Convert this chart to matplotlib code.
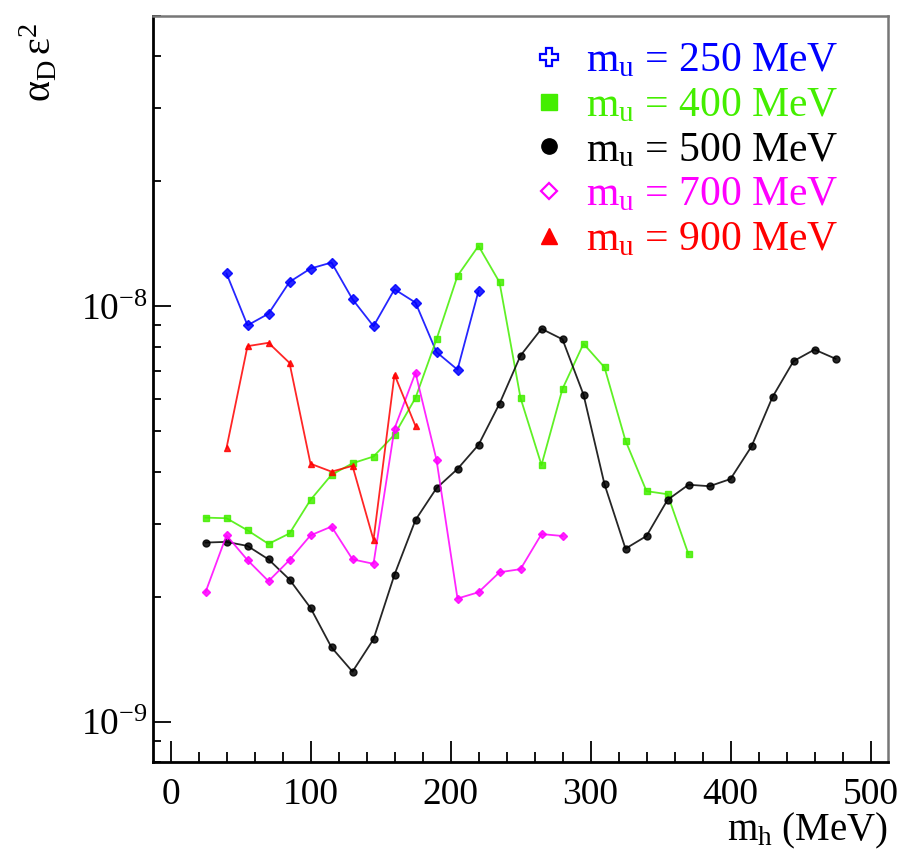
import numpy as np
import matplotlib.pyplot as plt
from matplotlib.lines import Line2D
from matplotlib.ticker import FixedLocator, LogLocator, MultipleLocator, NullFormatter

plt.rcParams['font.family'] = ['Liberation Serif', 'DejaVu Serif']
plt.rcParams['mathtext.fontset'] = 'custom'
plt.rcParams['mathtext.rm'] = 'Liberation Serif'
plt.rcParams['mathtext.it'] = 'Liberation Serif:italic'

# --- data (y in units of 1e-9) ---
x_250 = [40, 55, 70, 85, 100, 115, 130, 145, 160, 175, 190, 205, 220]
y_250 = [12.0, 9.0, 9.6, 11.45, 12.33, 12.75, 10.4, 8.96, 10.99, 10.21, 7.76, 7.04, 10.89]

x_400 = [25, 40, 55, 70, 85, 100, 115, 130, 145, 160, 175, 190, 205, 220, 235, 250,
         265, 280, 295, 310, 325, 340, 355, 370]
y_400 = [3.10, 3.09, 2.89, 2.68, 2.84, 3.42, 3.93, 4.19, 4.35, 4.91, 6.02, 8.33, 11.84,
         13.98, 11.43, 6.02, 4.15, 6.33, 8.13, 7.13, 4.75, 3.59, 3.53, 2.53]

x_500 = [25, 40, 55, 70, 85, 100, 115, 130, 145, 160, 175, 190, 205, 220, 235, 250,
         265, 280, 295, 310, 325, 340, 355, 370, 385, 400, 415, 430, 445, 460, 475]
y_500 = [2.70, 2.71, 2.65, 2.46, 2.20, 1.88, 1.51, 1.32, 1.58, 2.26, 3.06, 3.65, 4.06,
         4.64, 5.83, 7.61, 8.83, 8.33, 6.13, 3.73, 2.61, 2.80, 3.42, 3.72, 3.69, 3.84,
         4.60, 6.05, 7.38, 7.87, 7.48]

x_700 = [25, 40, 55, 70, 85, 100, 115, 130, 145, 160, 175, 190, 205, 220, 235, 250, 265, 280]
y_700 = [2.05, 2.81, 2.45, 2.18, 2.45, 2.81, 2.95, 2.46, 2.40, 5.08, 6.92, 4.27, 1.98,
         2.05, 2.29, 2.33, 2.83, 2.80]

x_900 = [40, 55, 70, 85, 100, 115, 130, 145, 160, 175]
y_900 = [4.56, 8.02, 8.17, 7.31, 4.18, 4.00, 4.13, 2.74, 6.85, 5.15]

labels = [r'm$_{\mathrm{u}}$ = 250 MeV', r'm$_{\mathrm{u}}$ = 400 MeV',
          r'm$_{\mathrm{u}}$ = 500 MeV', r'm$_{\mathrm{u}}$ = 700 MeV',
          r'm$_{\mathrm{u}}$ = 900 MeV']
colors = ['#0000ff', '#44ee00', '#000000', '#ff00ff', '#ff0000']
series = [(x_250, y_250), (x_400, y_400), (x_500, y_500), (x_700, y_700), (x_900, y_900)]
data_markers = ['D', 's', 'o', 'D', '^']
data_msize = [5, 5, 5, 4, 5]

fig = plt.figure(figsize=(9.05, 8.51), dpi=100)
ax = fig.add_axes([153/905, 1-762/851, (888-153)/905, (762-16)/851])

for (xs, ys), c, m, ms in zip(series, colors, data_markers, data_msize):
    ax.plot(xs, np.array(ys)*1e-9, color=c, lw=1.3, marker=m, ms=ms, mec=c, mfc=c, alpha=0.85)

ax.set_yscale('log')
ax.set_xlim(-12.5, 512.5)
ax.set_ylim(8e-10, 5e-8)

ax.xaxis.set_major_locator(MultipleLocator(100))
ax.xaxis.set_minor_locator(MultipleLocator(20))
ax.yaxis.set_major_locator(FixedLocator([1e-9, 1e-8]))
ax.yaxis.set_minor_locator(LogLocator(base=10, subs=np.arange(2, 10)))
ax.yaxis.set_minor_formatter(NullFormatter())
ax.set_yticklabels([r'$\mathrm{10^{-9}}$', r'$\mathrm{10^{-8}}$'])

ax.tick_params(which='both', direction='in', top=False, right=False, labelsize=27, width=1.3)
ax.tick_params(axis='x', which='major', length=15, pad=11)
ax.tick_params(axis='x', which='minor', length=7)
ax.tick_params(axis='y', which='major', length=13, pad=4)
ax.tick_params(axis='y', which='minor', length=6)

for s in ['left', 'bottom']:
    ax.spines[s].set_linewidth(2)
for s in ['top', 'right']:
    ax.spines[s].set_linewidth(1.8)
    ax.spines[s].set_color('#777777')

ax.text(1.0, -0.066, r'm$_{\mathrm{h}}$ (MeV)', transform=ax.transAxes,
        ha='right', va='top', fontsize=28)
fig.text(40/905, 1-62/851, r'$\mathrm{\alpha_D\,\varepsilon^2}$', rotation=90,
         ha='center', va='center', fontsize=29)

# legend
handles = [
    Line2D([], [], ls='none', marker='P', ms=13, mfc='white', mec=colors[0], mew=1.6),
    Line2D([], [], ls='none', marker='s', ms=11, mfc=colors[1], mec=colors[1]),
    Line2D([], [], ls='none', marker='o', ms=11, mfc=colors[2], mec=colors[2]),
    Line2D([], [], ls='none', marker='D', ms=8, mfc='white', mec=colors[3], mew=1.6),
    Line2D([], [], ls='none', marker='^', ms=11, mfc=colors[4], mec=colors[4]),
]
ax.legend(handles, labels, loc='upper left', bbox_to_anchor=((528-153)/735, (762-42)/746),
          frameon=False, fontsize=30, labelcolor=colors, handlelength=1.0,
          handletextpad=0.4, labelspacing=0.15, borderpad=0, borderaxespad=0)

fig.savefig('out.png', dpi=100)
